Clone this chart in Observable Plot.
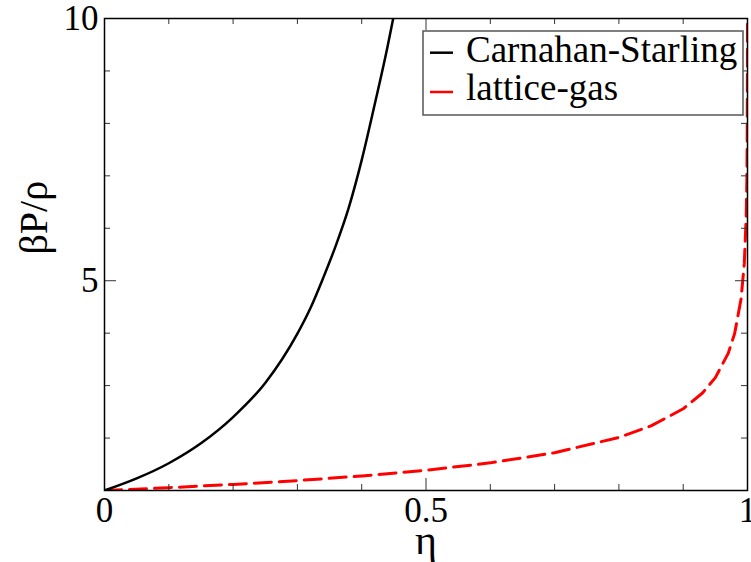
<!DOCTYPE html>
<html><head><meta charset="utf-8">
<script src="https://cdn.jsdelivr.net/npm/d3@7"></script>
<script src="https://cdn.jsdelivr.net/npm/@observablehq/plot@0.6"></script>
<style>body{margin:0;background:#fff} #chart{position:relative;width:751px;height:562px}</style>
</head><body><div id="chart"></div>
<script>
// Carnahan-Starling curve
const etaCS = [0, 0.05, 0.10, 0.15, 0.20, 0.25, 0.30, 0.32, 0.34, 0.36, 0.38, 0.40, 0.42, 0.44, 0.449, 0.46];
const zCS   = [1.00, 1.23, 1.52, 1.90, 2.40, 3.05, 3.99, 4.47, 5.05, 5.68, 6.40, 7.30, 8.35, 9.45, 10.0, 10.7];
// lattice-gas curve
const etaLG = [0, 0.1, 0.2, 0.3, 0.4, 0.5, 0.6, 0.7, 0.8, 0.85, 0.9, 0.93, 0.95, 0.97, 0.98, 0.99, 0.995, 0.998, 0.999, 0.9995, 0.9999, 0.99995, 0.99996];
const zLG   = [1.000, 1.054, 1.116, 1.189, 1.277, 1.386, 1.527, 1.720, 2.012, 2.232, 2.558, 2.859, 3.153, 3.615, 3.992, 4.652, 5.325, 6.227, 6.915, 7.600, 9.210, 9.900, 10.13];
const xMajor = [0, 0.5, 1];
const xMinor = [0.1, 0.2, 0.3, 0.4, 0.6, 0.7, 0.8, 0.9];
const yMajor = [5, 10];
const yMinor = [2, 3, 4, 6, 7, 8, 9];
const seriesNames = ["Carnahan-Starling", "lattice-gas"];
const seriesColors = ["#000000", "#ff0000"];
const xLabel = "η";
const yLabel = "βP/ρ";

const cs = etaCS.map((x, i) => ({x, y: zCS[i]}));
const lg = etaLG.map((x, i) => ({x, y: zLG[i]}));
const font = "'Liberation Serif', 'Times New Roman', serif";
const tickColor = "#333";

const W = 751, H = 562, mL = 104, mR = 4, mT = 18, mB = 72;
const fw = W - mL - mR, fh = H - mT - mB;
const major = 12, minor = 6;

function legendMark() {
  const g = d3.create("svg:g").attr("font-family", font).attr("text-anchor", "start");
  g.append("rect").attr("x", 423).attr("y", 31).attr("width", 320).attr("height", 84)
    .attr("fill", "white").attr("stroke", "#555").attr("stroke-width", 1.5);
  const rows = [52.7, 92];
  const base = [62, 100];
  seriesNames.forEach((name, i) => {
    g.append("line").attr("x1", 430).attr("x2", 453).attr("y1", rows[i]).attr("y2", rows[i])
      .attr("stroke", seriesColors[i]).attr("stroke-width", 2.5);
    g.append("text").attr("x", 466).attr("y", base[i]).attr("font-size", 37)
      .attr("fill", "black").text(name);
  });
  return g.node();
}

const chart = Plot.plot({
  width: W, height: H,
  marginLeft: mL, marginRight: mR, marginTop: mT, marginBottom: mB,
  x: {domain: [0, 1]},
  y: {domain: [1, 10]},
  style: {fontFamily: font, fontSize: "35px", color: "black", background: "white"},
  marks: [
    Plot.line(lg, {x: "x", y: "y", stroke: seriesColors[1], strokeWidth: 3, strokeDasharray: "17,8", clip: true}),
    Plot.line(cs, {x: "x", y: "y", stroke: seriesColors[0], strokeWidth: 2.5, curve: "monotone-x", clip: true}),
    // inward ticks: bottom, top, left, right
    Plot.ruleX(xMajor, {x: d => d, insetTop: fh - major, stroke: tickColor}),
    Plot.ruleX(xMinor, {x: d => d, insetTop: fh - minor, stroke: tickColor}),
    Plot.ruleX(xMajor, {x: d => d, insetBottom: fh - major, stroke: tickColor}),
    Plot.ruleX(xMinor, {x: d => d, insetBottom: fh - minor, stroke: tickColor}),
    Plot.ruleY(yMajor, {y: d => d, insetRight: fw - major, stroke: tickColor}),
    Plot.ruleY(yMinor, {y: d => d, insetRight: fw - minor, stroke: tickColor}),
    Plot.ruleY(yMajor, {y: d => d, insetLeft: fw - major, stroke: tickColor}),
    Plot.ruleY(yMinor, {y: d => d, insetLeft: fw - minor, stroke: tickColor}),
    Plot.axisX(xMajor, {tickSize: 0, tickPadding: 7, tickFormat: d => String(d), label: null, fontSize: 35}),
    Plot.axisY(yMajor, {tickSize: 0, tickPadding: 6, tickFormat: d => String(d), label: null, fontSize: 35}),
    Plot.frame({stroke: "black", strokeWidth: 1.5}),
    Plot.text([xLabel], {text: d => d, frameAnchor: "bottom", dy: 63, fontSize: 42}),
    Plot.text([yLabel], {text: d => d, frameAnchor: "left", dx: -70, rotate: -90, fontSize: 40}),
    legendMark
  ]
});
document.getElementById("chart").appendChild(chart);
</script>
</body></html>
